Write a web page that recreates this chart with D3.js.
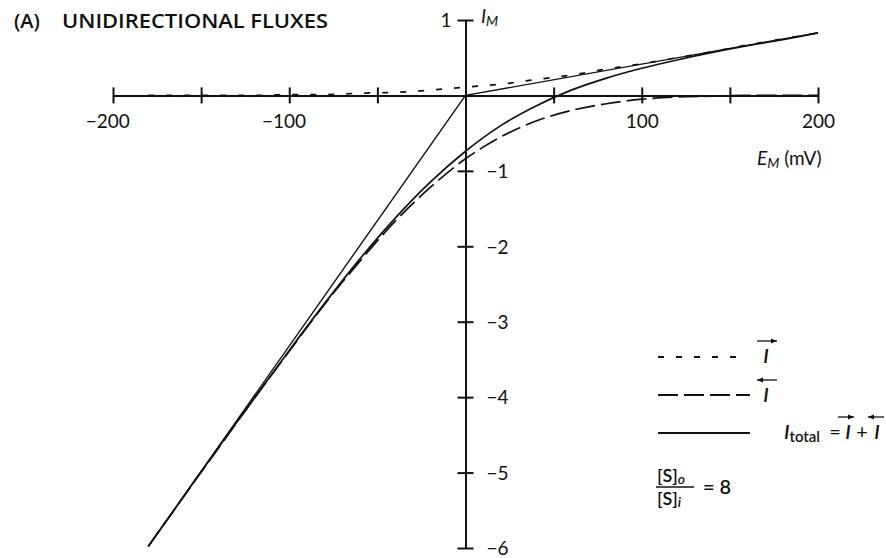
<!DOCTYPE html>
<html>
<head>
<meta charset="utf-8">
<script src="https://cdn.jsdelivr.net/npm/d3@7"></script>
<style>
  html, body { margin: 0; padding: 0; background: #fff; }
  svg { display: block; font-family: Lato, "Open Sans", sans-serif; }
  text { fill: #111; }
</style>
</head>
<body>
<svg id="chart" width="886" height="558"></svg>
<script>
// Membrane potential (mV) at which the currents are sampled
const voltages = [-180, -160, -140, -120, -100, -80, -60, -40, -20, 0, 20, 40, 60, 80, 100, 120, 140, 160, 180, 200];
// Outward unidirectional current (→), dotted
const outwardCurrent = [0.00, 0.00, 0.00, 0.00, 0.01, 0.01, 0.03, 0.04, 0.07, 0.11, 0.15, 0.21, 0.27, 0.35, 0.42, 0.50, 0.58, 0.67, 0.75, 0.83];
// Inward unidirectional current (←), dashed
const inwardCurrent = [-5.98, -5.32, -4.67, -4.02, -3.39, -2.77, -2.20, -1.67, -1.22, -0.84, -0.55, -0.34, -0.20, -0.11, -0.05, -0.02, -0.01, 0.00, 0.00, 0.00];
// Net current I_total, solid
const totalCurrent = [-5.98, -5.32, -4.66, -4.02, -3.38, -2.76, -2.17, -1.63, -1.15, -0.74, -0.40, -0.14, 0.07, 0.23, 0.36, 0.47, 0.57, 0.66, 0.74, 0.83];
// Straight limiting lines through the origin
const limitVoltages = [-180, 0, 200];
const limitCurrent = [-5.98, 0, 0.83];

// Axis ticks and labels
const xTicks = [-200, -150, -100, -50, 50, 100, 150, 200];
const xTickLabels = {"-200": "−200", "-100": "−100", "100": "100", "200": "200"};
const yTicks = [1, -1, -2, -3, -4, -5, -6];
const yTickLabels = {"1": "1", "-1": "−1", "-2": "−2", "-3": "−3", "-4": "−4", "-5": "−5", "-6": "−6"};

const svg = d3.select("#chart");
const ink = "#111";

const x = d3.scaleLinear().domain([-200, 200]).range([113, 818]);
const y = d3.scaleLinear().domain([-6, 1]).range([548, 20]);

// ---- Title ----
svg.append("text").attr("x", 14).attr("y", 28)
  .style("font-family", "'Open Sans', sans-serif")
  .style("font-size", "20px").style("font-weight", 600).text("(A)");
svg.append("text").attr("x", 62).attr("y", 28)
  .style("font-family", "'Open Sans', sans-serif")
  .style("font-size", "20px").style("font-weight", 600)
  .attr("textLength", 266).attr("lengthAdjust", "spacingAndGlyphs")
  .text("UNIDIRECTIONAL FLUXES");

// ---- X axis (crosses at I = 0) ----
const gx = svg.append("g").attr("transform", `translate(0,${y(0)})`)
  .call(d3.axisBottom(x).tickValues(xTicks).tickSizeInner(8).tickSizeOuter(0)
    .tickPadding(0).tickFormat(d => xTickLabels[d] || ""));
gx.select(".domain").attr("stroke", ink).attr("stroke-width", 2);
gx.selectAll(".tick line").attr("stroke", ink).attr("stroke-width", 2).attr("y1", -8).attr("y2", 8);
gx.selectAll(".tick text")
  .attr("y", 19).attr("dy", "0.71em")
  .attr("dx", d => d < 0 ? "-0.3em" : 0)
  .attr("font-size", 19).attr("font-family", "Lato, sans-serif").attr("fill", ink);

// ---- Y axis (crosses at E = 0) ----
const gy = svg.append("g").attr("transform", `translate(${x(0)},0)`)
  .call(d3.axisRight(y).tickValues(yTicks).tickSizeInner(8).tickSizeOuter(0)
    .tickPadding(0).tickFormat(d => yTickLabels[d]));
gy.select(".domain").attr("stroke", ink).attr("stroke-width", 2);
gy.selectAll(".tick line").attr("stroke", ink).attr("stroke-width", 2).attr("x1", -8).attr("x2", 8);
gy.selectAll(".tick text")
  .attr("x", d => d > 0 ? -14 : 21)
  .attr("text-anchor", d => d > 0 ? "end" : "start")
  .attr("dy", "0.36em")
  .attr("font-size", 19).attr("font-family", "Lato, sans-serif").attr("fill", ink);

// Axis titles
const yTitle = svg.append("text").attr("x", 481).attr("y", 23).attr("font-size", 19).attr("font-style", "italic");
yTitle.append("tspan").text("I");
yTitle.append("tspan").attr("font-size", 14).attr("dy", 3).text("M");

const xTitle = svg.append("text").attr("x", 757).attr("y", 165).attr("font-size", 19);
xTitle.append("tspan").attr("font-style", "italic").text("E");
xTitle.append("tspan").attr("font-style", "italic").attr("font-size", 14).attr("dy", 3).text("M");
xTitle.append("tspan").attr("dy", -3).text(" (mV)");

// ---- Curves ----
const lineGen = d3.line()
  .x(d => x(d[0])).y(d => y(d[1]))
  .curve(d3.curveMonotoneX);

const series = [
  {values: outwardCurrent, dash: "6,12", width: 1.7},
  {values: inwardCurrent, dash: "20,6", width: 1.7},
  {values: totalCurrent, dash: null, width: 1.7}
];

svg.append("g").selectAll("path.curve")
  .data(series).join("path")
  .attr("class", "curve")
  .attr("fill", "none").attr("stroke", ink)
  .attr("stroke-width", d => d.width)
  .attr("stroke-dasharray", d => d.dash)
  .attr("d", d => lineGen(voltages.map((v, i) => [v, d.values[i]])));

svg.append("path")
  .attr("fill", "none").attr("stroke", ink).attr("stroke-width", 1.4)
  .attr("d", d3.line().x(d => x(d[0])).y(d => y(d[1]))(limitVoltages.map((v, i) => [v, limitCurrent[i]])));

// ---- Legend ----
const legend = svg.append("g");
const rows = [
  {y: 357, dash: "6,12"},
  {y: 395, dash: "20,6"},
  {y: 433, dash: null}
];
legend.selectAll("line.key").data(rows).join("line")
  .attr("class", "key")
  .attr("x1", 658).attr("x2", d => d.dash === "6,12" ? 742 : 750)
  .attr("y1", d => d.y).attr("y2", d => d.y)
  .attr("stroke", ink).attr("stroke-width", 1.8)
  .attr("stroke-dasharray", d => d.dash);

// small arrow drawn over a current symbol
function arrowOver(cx, cy, dir, half = 10) {
  const x0 = cx - half, x1 = cx + half;
  legend.append("line").attr("x1", x0).attr("x2", x1).attr("y1", cy).attr("y2", cy)
    .attr("stroke", ink).attr("stroke-width", 1.3);
  const tip = dir > 0 ? x1 : x0;
  legend.append("path")
    .attr("d", `M${tip},${cy} L${tip - dir * 6},${cy - 2.5} L${tip - dir * 6},${cy + 2.5} Z`)
    .attr("fill", ink);
}
function symbolI(px, py) {
  legend.append("text").attr("x", px).attr("y", py)
    .attr("font-size", 20).attr("font-style", "italic").attr("font-weight", 600)
    .attr("text-anchor", "middle").text("I");
}

symbolI(766, 363); arrowOver(767, 341, 1);
symbolI(766, 402); arrowOver(767, 380, -1);

const tot = legend.append("text").attr("x", 784).attr("y", 439).attr("font-size", 20);
tot.append("tspan").attr("font-style", "italic").attr("font-weight", 600).text("I");
tot.append("tspan").attr("font-size", 15).attr("dy", 3).attr("font-weight", 600).text("total");
legend.append("text").attr("x", 835).attr("y", 439).attr("font-size", 20).attr("text-anchor", "middle").text("=");
symbolI(848, 439); arrowOver(846, 417, 1, 8);
legend.append("text").attr("x", 862).attr("y", 439).attr("font-size", 20).attr("text-anchor", "middle").text("+");
symbolI(877, 439); arrowOver(876, 417, -1, 8);

// Concentration ratio
const frac = legend.append("g");
const num = frac.append("text").attr("x", 657).attr("y", 482).attr("font-size", 18).attr("font-weight", 600);
num.append("tspan").text("[S]");
num.append("tspan").attr("font-style", "italic").attr("font-size", 14).attr("dy", 2).text("o");
frac.append("line").attr("x1", 656).attr("x2", 694).attr("y1", 487).attr("y2", 487)
  .attr("stroke", ink).attr("stroke-width", 1.6);
const den = frac.append("text").attr("x", 657).attr("y", 505).attr("font-size", 18).attr("font-weight", 600);
den.append("tspan").text("[S]");
den.append("tspan").attr("font-style", "italic").attr("font-size", 14).attr("dy", 2).text("i");
frac.append("text").attr("x", 703).attr("y", 494).attr("font-size", 20).attr("font-weight", 600).text("=  8");
</script>
</body>
</html>
